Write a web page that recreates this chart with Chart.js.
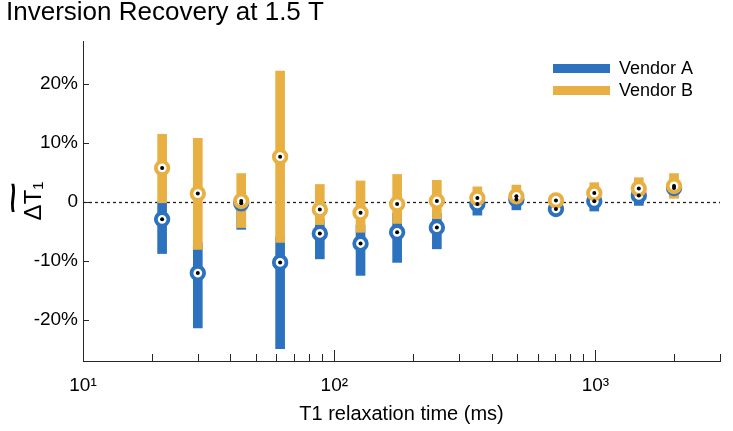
<!DOCTYPE html>
<html>
<head>
<meta charset="utf-8">
<script src="https://cdn.jsdelivr.net/npm/chart.js@4.4.1/dist/chart.umd.min.js"></script>
<style>
  body { margin: 0; background: #fff; }
  canvas { display: block; }
</style>
</head>
<body>
<canvas id="irChart" width="733" height="431"></canvas>
<script>
// reference T1 of each sphere (ms)
const t1Values = [21.9, 30, 44, 62, 88, 126, 174, 247, 353, 498, 706, 990, 1466, 2000];

// Vendor A - spread (low / high) and median of the T1 error, in %
const vendorALow    = [-8.8, -21.4, -4.7, -24.9, -9.7, -12.5, -10.3, -8.0, -2.3, -1.4, -1.8, -1.6, -0.65, 0.9];
const vendorAHigh   = [0.0, -7.0, -1.0, -6.0, -3.0, -4.0, -2.0, -2.0, 0.5, 0.8, -0.6, 1.0, 2.0, 3.5];
const vendorAMedian = [-3.0, -12.1, -0.3, -10.3, -5.4, -7.1, -5.2, -4.4, -0.4, 0.35, -1.25, 0.05, 1.05, 2.3];

// Vendor B
const vendorBLow    = [-0.2, -8.1, -4.4, -6.9, -3.9, -5.2, -3.7, -2.9, -0.5, 0.0, -0.3, 0.0, 1.0, 0.55];
const vendorBHigh   = [11.4, 10.7, 4.75, 22.1, 2.9, 3.5, 4.6, 3.6, 2.5, 2.8, 0.9, 3.2, 4.05, 4.75];
const vendorBMedian = [5.7, 1.35, 0.1, 7.6, -1.35, -1.9, -0.4, 0.1, 0.6, 0.9, 0.2, 1.45, 2.2, 2.65];

const seriesNames = ['Vendor A', 'Vendor B'];

// axes
const xAxisMin = 10.9;   // left end of the axis, labelled 10^1 in the figure
const xAxisMax = 3000;
const xTickValues = [20, 30, 40, 50, 60, 70, 80, 90, 100, 200, 300, 400, 500, 600, 700, 800, 900, 1000, 2000, 3000];
const xMajorLabels = { 100: '10²', 1000: '10³' };
const yTickValues = [-20, -10, 0, 10, 20];

const blue = '#2c72bf';
const gold = '#e8b042';

Chart.defaults.font.family = "'Liberation Sans', Arial, sans-serif";
Chart.defaults.color = '#000';

function rangeData(lows, highs) {
    return t1Values.map((x, i) => ({ x: x, y: [lows[i], highs[i]] }));
}
function pointData(vals) {
    return t1Values.map((x, i) => ({ x: x, y: vals[i] }));
}
function ringSet(label, vals, color, order) {
    return {
        type: 'line', label: label, data: pointData(vals), showLine: false, order: order,
        pointRadius: 6.3, pointBorderWidth: 3.8, pointBackgroundColor: '#fff', pointBorderColor: color
    };
}
function dotSet(label, vals) {
    return {
        type: 'line', label: label, data: pointData(vals), showLine: false, order: 0,
        pointRadius: 2, pointBorderWidth: 0, pointBackgroundColor: '#000'
    };
}

// dotted zero line behind the bars
const zeroLine = {
    id: 'zeroLine',
    beforeDatasetsDraw(chart) {
        const ctx = chart.ctx, area = chart.chartArea;
        const y = Math.round(chart.scales.y.getPixelForValue(0)) + 0.5;
        ctx.save();
        ctx.strokeStyle = '#222';
        ctx.lineWidth = 1.3;
        ctx.setLineDash([3, 3]);
        ctx.beginPath();
        ctx.moveTo(area.left, y);
        ctx.lineTo(area.right, y);
        ctx.stroke();
        ctx.restore();
    }
};

// matlab style ticks pointing into the plot
const innerTicks = {
    id: 'innerTicks',
    afterDraw(chart) {
        const ctx = chart.ctx, area = chart.chartArea;
        const xs = chart.scales.x, ys = chart.scales.y;
        ctx.save();
        ctx.strokeStyle = '#262626';
        ctx.lineWidth = 1;
        ctx.beginPath();
        xs.ticks.forEach((t, i) => {
            if (i === 0) return;
            const x = Math.round(xs.getPixelForValue(t.value)) + 0.5;
            const len = xMajorLabels[t.value] ? 11 : 7;
            ctx.moveTo(x, area.bottom);
            ctx.lineTo(x, area.bottom - len);
        });
        ys.ticks.forEach(t => {
            const y = Math.round(ys.getPixelForValue(t.value)) + 0.5;
            ctx.moveTo(area.left, y);
            ctx.lineTo(area.left + 6, y);
        });
        ctx.stroke();
        ctx.restore();
    }
};

// wide tilde over the y label (median symbol)
const labelTilde = {
    id: 'labelTilde',
    afterDraw(chart) {
        const ctx = chart.ctx, area = chart.chartArea;
        const cx = chart.scales.y.left + 9;
        const cy = (area.top + area.bottom) / 2 - 3;
        ctx.save();
        ctx.translate(cx, cy);
        ctx.rotate(-Math.PI / 2);
        ctx.scale(2.8, 1.35);
        ctx.font = "bold 20px 'Liberation Sans', Arial, sans-serif";
        ctx.fillStyle = '#000';
        ctx.textAlign = 'center';
        ctx.textBaseline = 'middle';
        ctx.fillText('~', 0, 0);
        ctx.restore();
    }
};

// legend box in the upper right of the plot
const rangeLegend = {
    id: 'rangeLegend',
    afterDraw(chart) {
        const ctx = chart.ctx, area = chart.chartArea;
        const x0 = area.right - 167, y0 = area.top + 23;
        ctx.save();
        ctx.font = "18px 'Liberation Sans', Arial, sans-serif";
        ctx.textBaseline = 'middle';
        [0, 1].forEach(i => {
            const ds = chart.data.datasets[i];
            ctx.fillStyle = ds.backgroundColor;
            ctx.fillRect(x0, y0 + i * 22, 57, 9);
            ctx.fillStyle = '#000';
            ctx.fillText(ds.label, x0 + 66, y0 + 5 + i * 22);
        });
        ctx.restore();
    }
};

new Chart(document.getElementById('irChart'), {
    type: 'bar',
    data: {
        datasets: [
            { label: seriesNames[0], data: rangeData(vendorALow, vendorAHigh), backgroundColor: blue,
              barThickness: 9, grouped: false, borderWidth: 0, order: 4 },
            { label: seriesNames[1], data: rangeData(vendorBLow, vendorBHigh), backgroundColor: gold,
              barThickness: 9, grouped: false, borderWidth: 0, order: 3 },
            ringSet(seriesNames[0] + ' median', vendorAMedian, blue, 2),
            ringSet(seriesNames[1] + ' median', vendorBMedian, gold, 1),
            dotSet('A dot', vendorAMedian),
            dotSet('B dot', vendorBMedian)
        ]
    },
    options: {
        responsive: false,
        animation: false,
        devicePixelRatio: 1,
        events: [],
        layout: { padding: { left: 6, right: 9, top: 0, bottom: 0 } },
        plugins: {
            legend: { display: false },
            tooltip: { enabled: false },
            title: {
                display: true,
                text: 'Inversion Recovery at 1.5 T',
                align: 'start',
                color: '#000',
                font: { size: 26, weight: 'normal', lineHeight: 1 },
                padding: { top: 0, bottom: 15 }
            }
        },
        scales: {
            x: {
                type: 'logarithmic',
                min: xAxisMin,
                max: xAxisMax,
                grid: { display: false, drawTicks: false },
                border: { display: true, color: '#262626', width: 1 },
                afterBuildTicks: s => { s.ticks = [xAxisMin].concat(xTickValues).map(v => ({ value: v })); },
                afterFit: s => { s.height = 70; },
                ticks: {
                    autoSkip: false, maxRotation: 0, padding: 13,
                    font: { size: 19 },
                    callback: (v, i) => i === 0 ? '10¹' : (xMajorLabels[v] || '')
                },
                title: {
                    display: true, text: 'T1 relaxation time (ms)',
                    font: { size: 20 }, padding: { top: 0, bottom: 5 }
                }
            },
            y: {
                min: -27,
                max: 27.2,
                grid: { display: false, drawTicks: false },
                border: { display: true, color: '#262626', width: 1 },
                afterBuildTicks: s => { s.ticks = yTickValues.map(v => ({ value: v })); },
                afterFit: s => { s.width = 77; },
                ticks: {
                    padding: 5,
                    font: { size: 19 },
                    callback: v => v === 0 ? '0' : v + '%'
                },
                title: {
                    display: true, text: 'ΔT₁',
                    font: { size: 24 }, padding: { top: 14, bottom: 0 }
                }
            }
        }
    },
    plugins: [zeroLine, innerTicks, labelTilde, rangeLegend]
});
</script>
</body>
</html>
